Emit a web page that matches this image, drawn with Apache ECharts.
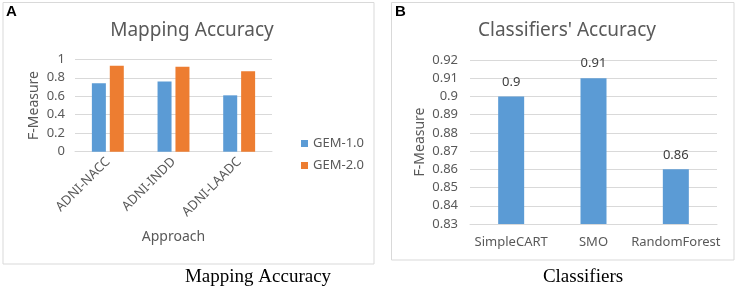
<!DOCTYPE html>
<html>
<head>
<meta charset="utf-8">
<script src="https://cdn.jsdelivr.net/npm/echarts@6/dist/echarts.min.js"></script>
<style>
html,body{margin:0;padding:0;background:#fff;}
#c{width:737px;height:288px;}
</style>
</head>
<body>
<div id="c"></div>
<script>
// Panel A data
const approaches = ['ADNI-NACC', 'ADNI-INDD', 'ADNI-LAADC'];
const gem10 = [0.74, 0.76, 0.61];
const gem20 = [0.93, 0.92, 0.87];
// Panel B data
const classifiers = ['SimpleCART', 'SMO', 'RandomForest'];
const classifierF = [0.90, 0.91, 0.86];

const FONT = '"Noto Sans", "Open Sans", sans-serif';
const GRAY = '#595959';

const chart = echarts.init(document.getElementById('c'), null, {renderer: 'canvas'});
chart.setOption({
  animation: false,
  textStyle: {fontFamily: FONT},
  title: [
    {text: 'Mapping Accuracy', left: 187, top: 16, textAlign: 'center',
     textStyle: {fontFamily: FONT, fontSize: 19, fontWeight: 'normal', color: GRAY}},
    {text: "Classifiers' Accuracy", left: 562, top: 16, textAlign: 'center',
     textStyle: {fontFamily: FONT, fontSize: 19, fontWeight: 'normal', color: GRAY}}
  ],
  legend: {
    orient: 'vertical', left: 296, top: 132, itemWidth: 7, itemHeight: 7, itemGap: 9,
    icon: 'rect',
    textStyle: {fontFamily: FONT, fontSize: 13, color: GRAY},
    data: ['GEM-1.0', 'GEM-2.0']
  },
  grid: [
    {left: 75, top: 59.3, width: 197, height: 92.4},
    {left: 470, top: 60, width: 247, height: 164}
  ],
  xAxis: [
    {type: 'category', gridIndex: 0, data: approaches,
     name: 'Approach', nameLocation: 'middle', nameGap: 78,
     nameTextStyle: {fontFamily: FONT, fontSize: 14, color: GRAY},
     axisLine: {lineStyle: {color: '#d9d9d9'}}, axisTick: {show: false},
     axisLabel: {interval: 0, rotate: 45, fontFamily: FONT, fontSize: 13, color: GRAY, margin: 8}},
    {type: 'category', gridIndex: 1, data: classifiers,
     axisLine: {lineStyle: {color: '#d9d9d9'}}, axisTick: {show: false},
     axisLabel: {interval: 0, fontFamily: FONT, fontSize: 13, color: GRAY, margin: 12}}
  ],
  yAxis: [
    {type: 'value', gridIndex: 0, min: 0, max: 1, interval: 0.2,
     name: 'F-Measure', nameLocation: 'middle', nameGap: 34, nameRotate: 90,
     nameTextStyle: {fontFamily: FONT, fontSize: 14, color: GRAY},
     axisLine: {show: false}, axisTick: {show: false},
     splitLine: {lineStyle: {color: '#d9d9d9'}},
     axisLabel: {fontFamily: FONT, fontSize: 13, color: GRAY, margin: 10,
       formatter: v => String(Math.round(v * 10) / 10)}},
    {type: 'value', gridIndex: 1, min: 0.83, max: 0.92, interval: 0.01,
     name: 'F-Measure', nameLocation: 'middle', nameGap: 43, nameRotate: 90,
     nameTextStyle: {fontFamily: FONT, fontSize: 14, color: GRAY},
     axisLine: {show: false}, axisTick: {show: false},
     splitLine: {lineStyle: {color: '#d9d9d9'}},
     axisLabel: {fontFamily: FONT, fontSize: 13, color: GRAY, margin: 12,
       formatter: v => String(Math.round(v * 100) / 100)}}
  ],
  series: [
    {name: 'GEM-1.0', type: 'bar', xAxisIndex: 0, yAxisIndex: 0, data: gem10,
     barWidth: 14, barGap: '28%', itemStyle: {color: '#5b9bd5'}},
    {name: 'GEM-2.0', type: 'bar', xAxisIndex: 0, yAxisIndex: 0, data: gem20,
     barWidth: 14, barGap: '28%', itemStyle: {color: '#ed7d31'}},
    {name: 'F-Measure', type: 'bar', xAxisIndex: 1, yAxisIndex: 1, data: classifierF,
     barWidth: 26, itemStyle: {color: '#5b9bd5'},
     label: {show: true, position: 'top', distance: 8, fontFamily: FONT, fontSize: 13, color: '#404040'}}
  ],
  graphic: [
    {type: 'rect', shape: {x: 3, y: 2.5, width: 371, height: 261.5},
     style: {fill: 'none', stroke: '#d9d9d9', lineWidth: 1}, silent: true},
    {type: 'rect', shape: {x: 391.5, y: 2.5, width: 342.5, height: 257.5},
     style: {fill: 'none', stroke: '#d9d9d9', lineWidth: 1}, silent: true},
    {type: 'text', left: 6, top: 4, style: {text: 'A', fontFamily: '"Liberation Sans", Arial, sans-serif', fontWeight: 'bold', fontSize: 15, fill: '#000'}},
    {type: 'text', left: 395, top: 4, style: {text: 'B', fontFamily: '"Liberation Sans", Arial, sans-serif', fontWeight: 'bold', fontSize: 15, fill: '#000'}},
    {type: 'text', x: 258, y: 277, style: {text: 'Mapping Accuracy', fontFamily: '"Liberation Serif", "Times New Roman", serif', fontSize: 19, fill: '#000', align: 'center', verticalAlign: 'middle'}},
    {type: 'text', x: 583, y: 277, style: {text: 'Classifiers', fontFamily: '"Liberation Serif", "Times New Roman", serif', fontSize: 19, fill: '#000', align: 'center', verticalAlign: 'middle'}}
  ]
});
</script>
</body>
</html>
